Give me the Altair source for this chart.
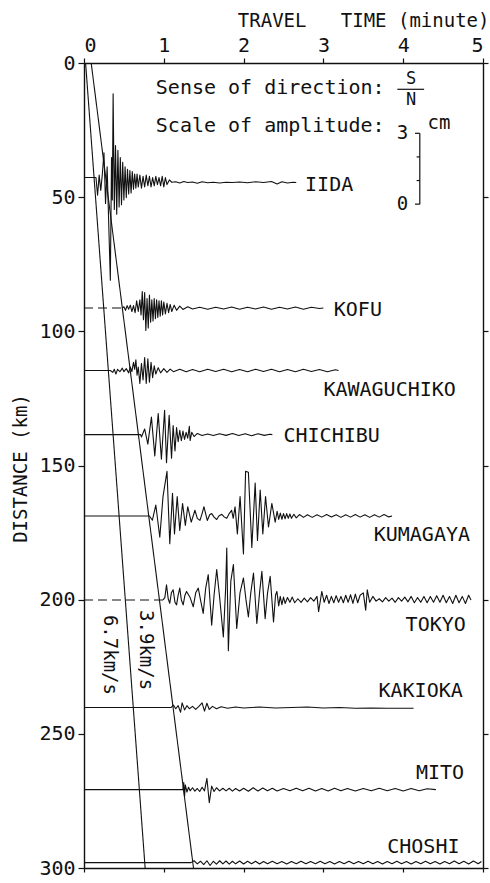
import altair as alt
import pandas as pd

FONT = "DejaVu Sans Mono"
INK = "#111111"
KM_PER_CM = 8.8  # amplitude scale: 1 cm of trace = 8.8 km on the distance axis

STATIONS = ["IIDA", "KOFU", "KAWAGUCHIKO", "CHICHIBU", "KUMAGAYA",
            "TOKYO", "KAKIOKA", "MITO", "CHOSHI"]
DIST_KM = [44.0, 91.3, 114.6, 138.5, 168.8, 200.1, 240.2, 270.8, 298.0]
LABEL_T = [2.77, 3.13, 3.00, 2.50, 3.63, 4.03, 3.69, 4.16, 3.80]
LABEL_D = [45.5, 92.1, 121.9, 139.0, 175.9, 209.5, 234.0, 264.6, 292.1]

# (time in minutes, amplitude in cm, positive = S)
IIDA = [(0.00, 0.15), (0.15, 0.15), (0.17, -0.6), (0.19, 0.25), (0.21, -0.4), (0.23, 0.3),
        (0.25, 1.2), (0.27, -0.95), (0.29, 0.6), (0.33, -4.2), (0.345, 1.0), (0.355, -0.8),
        (0.365, 3.7), (0.38, -1.2), (0.395, 1.5), (0.41, -1.4), (0.425, 1.3), (0.44, -1.1),
        (0.455, 1.0), (0.47, -1.0), (0.485, 0.8), (0.50, -0.8), (0.515, 0.6), (0.53, -0.7),
        (0.545, 0.5), (0.56, -0.55), (0.575, 0.45), (0.59, -0.5), (0.605, 0.4), (0.62, -0.35),
        (0.635, 0.3), (0.65, -0.3), (0.665, 0.3), (0.68, -0.25), (0.70, 0.25), (0.72, -0.3),
        (0.74, 0.2), (0.76, -0.25), (0.78, 0.25), (0.80, -0.2), (0.82, 0.2), (0.84, -0.25),
        (0.86, 0.15), (0.88, -0.2), (0.90, 0.2), (0.92, -0.15), (0.94, 0.15), (0.96, -0.2),
        (0.98, 0.2), (1.00, -0.25), (1.02, 0.15), (1.04, -0.15), (1.07, 0.05), (1.10, -0.05),
        (1.15, -0.03), (1.20, -0.08), (1.25, -0.02), (1.30, -0.06), (1.36, -0.04), (1.42, -0.09),
        (1.48, -0.03), (1.55, -0.07), (1.62, -0.05), (1.70, -0.08), (1.78, -0.05), (1.86, -0.06),
        (1.95, -0.04), (2.05, -0.07), (2.15, -0.03), (2.25, -0.06), (2.35, -0.02), (2.42, -0.12),
        (2.48, -0.03), (2.55, -0.08), (2.62, -0.05), (2.66, -0.06)]

KOFU = [(0.48, 0.0), (0.50, 0.05), (0.52, -0.1), (0.54, 0.1), (0.56, -0.05), (0.58, 0.12),
        (0.60, -0.15), (0.62, 0.1), (0.64, -0.2), (0.66, 0.3), (0.68, -0.15), (0.70, 0.35),
        (0.715, -0.3), (0.73, 0.7), (0.745, -0.5), (0.76, 0.65), (0.775, -0.95), (0.79, 0.4),
        (0.805, -0.85), (0.82, 0.55), (0.835, -0.6), (0.85, 0.35), (0.865, -0.55), (0.88, 0.4),
        (0.895, -0.45), (0.91, 0.35), (0.925, -0.4), (0.94, 0.3), (0.955, -0.35), (0.97, 0.3),
        (0.985, -0.3), (1.00, 0.25), (1.02, -0.25), (1.04, 0.2), (1.06, -0.2), (1.08, 0.15),
        (1.10, -0.15), (1.13, 0.12), (1.16, -0.1), (1.20, 0.08), (1.24, -0.06), (1.30, 0.05),
        (1.36, -0.04), (1.45, 0.03), (1.55, -0.05), (1.65, 0.03), (1.75, -0.04), (1.85, 0.04),
        (1.95, -0.05), (2.05, 0.03), (2.15, -0.04), (2.25, 0.04), (2.35, -0.05), (2.45, 0.03),
        (2.55, -0.04), (2.65, 0.04), (2.75, -0.05), (2.85, 0.03), (2.95, -0.02), (3.00, 0.0)]

KAWAGUCHIKO = [(0.00, 0.0), (0.33, 0.0), (0.36, -0.08), (0.38, 0.05), (0.40, -0.15), (0.42, 0.05),
               (0.45, -0.05), (0.48, 0.1), (0.50, -0.05), (0.53, 0.08), (0.56, -0.1), (0.58, 0.15),
               (0.60, -0.05), (0.62, 0.35), (0.635, 0.05), (0.65, 0.45), (0.665, -0.2), (0.68, 0.15),
               (0.70, -0.55), (0.72, 0.3), (0.74, -0.4), (0.76, 0.55), (0.78, -0.55), (0.80, 0.5),
               (0.82, -0.5), (0.84, 0.35), (0.86, -0.3), (0.88, 0.2), (0.90, -0.15), (0.93, 0.12),
               (0.96, -0.1), (1.00, 0.08), (1.04, -0.08), (1.08, 0.06), (1.12, -0.05), (1.20, 0.05),
               (1.28, -0.05), (1.36, 0.04), (1.45, -0.05), (1.55, 0.05), (1.65, -0.04), (1.75, 0.05),
               (1.85, -0.05), (1.95, 0.04), (2.05, -0.05), (2.15, 0.05), (2.25, -0.04), (2.35, 0.05),
               (2.45, -0.05), (2.55, 0.04), (2.65, -0.05), (2.75, 0.05), (2.85, -0.04), (2.95, 0.04),
               (3.05, -0.05), (3.15, 0.03), (3.19, 0.0)]

CHICHIBU = [(0.00, 0.0), (0.71, 0.0), (0.72, -0.1), (0.76, 0.24), (0.80, -0.4), (0.845, 0.74),
            (0.887, -0.9), (0.93, 0.89), (0.97, -1.04), (1.01, 1.03), (1.034, -1.19), (1.067, 0.82),
            (1.097, -1.0), (1.117, 0.39), (1.14, -0.69), (1.16, 0.3), (1.18, -0.3), (1.20, 0.18),
            (1.22, -0.26), (1.24, 0.15), (1.26, -0.2), (1.28, 0.1), (1.30, -0.15), (1.32, 0.35),
            (1.33, -0.25), (1.35, 0.1), (1.38, -0.08), (1.42, 0.05), (1.48, -0.04), (1.55, 0.03),
            (1.62, -0.04), (1.70, 0.04), (1.78, -0.03), (1.86, 0.05), (1.94, -0.04), (2.02, 0.04),
            (2.10, -0.05), (2.18, 0.04), (2.26, -0.03), (2.33, 0.02), (2.36, 0.0)]

KUMAGAYA = [(0.00, 0.0), (0.82, 0.0), (0.857, -0.18), (0.90, 0.46), (0.95, -0.9), (0.99, 0.82),
            (1.04, 1.89), (1.075, -1.18), (1.109, 0.96), (1.134, -0.76), (1.168, 0.82), (1.20, -0.61),
            (1.235, 0.53), (1.27, -0.4), (1.30, 0.39), (1.344, -0.26), (1.39, 0.24), (1.42, -0.1),
            (1.453, -0.19), (1.48, 0.1), (1.503, 0.39), (1.545, -0.19), (1.575, 0.05), (1.60, 0.1),
            (1.63, -0.05), (1.663, -0.15), (1.69, 0.0), (1.726, 0.07), (1.76, -0.05), (1.789, -0.1),
            (1.82, 0.1), (1.85, 0.24), (1.87, -0.1), (1.893, 0.39), (1.922, -0.76), (1.956, 0.82),
            (1.998, -1.61), (2.025, 1.89), (2.06, 1.85), (2.103, -1.33), (2.145, 1.39), (2.174, -1.04),
            (2.208, 1.1), (2.241, -0.76), (2.275, 0.82), (2.312, -0.47), (2.354, 0.53), (2.396, -0.26),
            (2.42, 0.2), (2.44, -0.15), (2.46, 0.12), (2.48, -0.14), (2.50, 0.1), (2.52, -0.12),
            (2.54, 0.1), (2.56, -0.1), (2.58, 0.08), (2.60, -0.1), (2.63, 0.07), (2.66, -0.08),
            (2.70, 0.06), (2.75, -0.06), (2.80, 0.05), (2.86, -0.06), (2.92, 0.05), (2.98, -0.05),
            (3.04, 0.06), (3.10, -0.04), (3.16, 0.05), (3.22, -0.06), (3.28, 0.05), (3.34, -0.05),
            (3.40, 0.06), (3.46, -0.05), (3.52, 0.05), (3.58, -0.06), (3.64, 0.05), (3.70, -0.05),
            (3.76, 0.06), (3.82, -0.04), (3.86, 0.0)]

TOKYO = [(0.99, 0.0), (1.013, 0.1), (1.034, 0.64), (1.055, 0.05), (1.075, -0.14), (1.095, 0.3),
         (1.117, 0.43), (1.14, -0.1), (1.16, -0.21), (1.18, 0.2), (1.20, 0.5), (1.22, 0.0),
         (1.243, -0.21), (1.265, 0.2), (1.285, 0.36), (1.33, 0.1), (1.369, -0.29), (1.40, 0.3),
         (1.432, 0.5), (1.46, 0.0), (1.494, -0.57), (1.525, 0.5), (1.557, 1.07), (1.60, -1.07),
         (1.63, 0.2), (1.663, 1.29), (1.70, 0.1), (1.746, -1.57), (1.775, 0.5), (1.789, 2.2),
         (1.809, -2.15), (1.84, 0.8), (1.872, 1.5), (1.914, -1.21), (1.955, 0.3), (1.998, 0.93),
         (2.03, 0.0), (2.06, -0.72), (2.09, 0.3), (2.124, 1.14), (2.166, -1.0), (2.20, 0.3),
         (2.229, 1.21), (2.27, -0.79), (2.30, 0.3), (2.333, 1.0), (2.375, -0.93), (2.40, 0.2),
         (2.417, 0.36), (2.44, -0.25), (2.459, 0.15), (2.48, -0.2), (2.50, 0.12), (2.52, -0.15),
         (2.55, 0.1), (2.58, -0.1), (2.61, 0.12), (2.64, -0.12), (2.68, 0.05), (2.72, -0.1),
         (2.76, 0.08), (2.80, -0.08), (2.84, 0.1), (2.88, -0.05), (2.92, 0.15), (2.94, -0.5),
         (2.98, 0.36), (3.01, -0.1), (3.04, 0.2), (3.07, -0.15), (3.10, 0.15), (3.13, -0.12),
         (3.16, 0.18), (3.19, -0.1), (3.22, 0.15), (3.25, -0.12), (3.28, 0.2), (3.31, -0.1),
         (3.34, 0.22), (3.37, -0.15), (3.40, 0.25), (3.43, -0.12), (3.46, 0.2), (3.50, 0.3),
         (3.53, -0.43), (3.55, 0.43), (3.58, -0.1), (3.62, 0.15), (3.66, -0.05), (3.70, 0.05),
         (3.74, -0.08), (3.78, 0.1), (3.82, -0.05), (3.86, 0.08), (3.90, -0.1), (3.94, 0.1),
         (3.98, -0.05), (4.02, 0.12), (4.06, -0.08), (4.10, 0.15), (4.14, -0.12), (4.18, 0.1),
         (4.22, -0.1), (4.26, 0.15), (4.30, -0.12), (4.34, 0.15), (4.38, -0.1), (4.42, 0.18),
         (4.46, -0.1), (4.50, 0.2), (4.54, -0.12), (4.58, 0.15), (4.62, -0.15), (4.66, 0.2),
         (4.70, -0.12), (4.74, 0.15), (4.78, -0.15), (4.82, 0.2), (4.85, 0.0)]

KAKIOKA = [(0.00, 0.0), (1.09, 0.0), (1.12, 0.1), (1.15, -0.05), (1.18, 0.08), (1.21, -0.2),
           (1.23, 0.2), (1.26, -0.1), (1.29, 0.08), (1.32, -0.05), (1.36, 0.05), (1.40, -0.08),
           (1.44, 0.05), (1.48, 0.2), (1.51, -0.15), (1.54, 0.18), (1.57, -0.08), (1.61, 0.05),
           (1.66, -0.05), (1.72, 0.03), (1.80, -0.03), (1.90, 0.02), (2.00, -0.02), (2.20, 0.02),
           (2.40, -0.02), (2.60, 0.0), (2.80, 0.02), (3.00, -0.02), (3.20, 0.0), (3.40, -0.03),
           (3.60, -0.02), (3.80, -0.03), (4.00, -0.03), (4.13, -0.03)]

MITO = [(0.00, 0.0), (1.24, 0.0), (1.25, 0.3), (1.26, -0.3), (1.27, 0.2), (1.29, -0.1),
        (1.31, 0.1), (1.33, -0.05), (1.36, 0.08), (1.39, -0.06), (1.42, 0.05), (1.45, -0.08),
        (1.48, 0.1), (1.51, -0.05), (1.54, 0.48), (1.57, -0.55), (1.60, 0.15), (1.63, -0.08),
        (1.66, 0.08), (1.70, -0.05), (1.74, 0.06), (1.78, -0.05), (1.82, 0.06), (1.86, -0.06),
        (1.90, 0.05), (1.95, -0.06), (2.00, 0.06), (2.06, -0.07), (2.12, 0.08), (2.18, -0.06),
        (2.24, 0.07), (2.30, -0.05), (2.36, 0.06), (2.42, -0.06), (2.50, 0.05), (2.58, -0.05),
        (2.66, 0.06), (2.74, -0.05), (2.82, 0.06), (2.90, -0.06), (2.98, 0.05), (3.06, -0.06),
        (3.14, 0.06), (3.22, -0.05), (3.30, 0.05), (3.40, -0.06), (3.50, 0.05), (3.60, -0.05),
        (3.70, 0.06), (3.80, -0.05), (3.90, 0.05), (4.00, -0.06), (4.10, 0.05), (4.20, -0.05),
        (4.30, 0.04), (4.41, 0.0)]

CHOSHI = [(0.00, 0.0), (1.34, 0.0), (1.38, 0.08), (1.42, -0.05), (1.46, 0.06), (1.50, -0.08),
          (1.54, 0.08), (1.58, -0.12), (1.62, 0.06), (1.66, -0.06), (1.70, 0.08), (1.74, -0.05),
          (1.78, 0.07), (1.82, -0.06), (1.86, 0.06), (1.90, -0.05), (1.95, 0.07), (2.00, -0.06),
          (2.05, 0.06), (2.10, -0.05), (2.15, 0.06), (2.20, -0.06), (2.25, 0.05), (2.30, -0.05),
          (2.36, 0.06), (2.42, -0.05), (2.48, 0.05), (2.54, -0.06), (2.60, 0.05), (2.66, -0.05),
          (2.72, 0.06), (2.78, -0.05), (2.84, 0.05), (2.90, -0.05), (2.96, 0.06), (3.02, -0.05),
          (3.08, 0.05), (3.14, -0.06), (3.20, 0.05), (3.26, -0.05), (3.32, 0.06), (3.38, -0.05),
          (3.44, 0.05), (3.50, -0.05), (3.56, 0.06), (3.62, -0.05), (3.68, 0.05), (3.74, -0.06),
          (3.80, 0.05), (3.86, -0.05), (3.92, 0.06), (3.98, -0.05), (4.04, 0.05), (4.10, -0.06),
          (4.16, 0.05), (4.22, -0.05), (4.28, 0.06), (4.34, -0.05), (4.40, 0.05), (4.46, -0.06),
          (4.52, 0.05), (4.58, -0.05), (4.64, 0.07), (4.70, -0.05), (4.76, 0.06), (4.82, -0.06),
          (4.88, 0.07), (4.94, -0.05), (4.98, 0.05)]

TRACES = [IIDA, KOFU, KAWAGUCHIKO, CHICHIBU, KUMAGAYA, TOKYO, KAKIOKA, MITO, CHOSHI]

# pre-arrival segments printed dashed (station, start time, end time)
DASHED_STATIONS = ["KOFU", "TOKYO"]
DASHED_END_T = [0.48, 0.99]

# travel-time lines
VELOCITY = [6.7, 3.9]
T_OFFSET = [0.02, 0.09]
VEL_LABEL = ["6.7km/s", "3.9km/s"]
VEL_LABEL_T = [0.32, 0.78]
VEL_LABEL_D = [220.6, 218.8]

# amplitude scale bar
SCALE_CM = [0, 1, 2, 3]
SCALE_T = 4.208
SCALE_BASE_D = 52.6

# ---------------------------------------------------------------- data frames
rows = []
for name, d, pts in zip(STATIONS, DIST_KM, TRACES):
    for i, (t, a) in enumerate(pts):
        rows.append({"station": name, "i": i, "t": t, "y": d - a * KM_PER_CM})
traces = pd.DataFrame(rows)

dash_rows = []
for name, te in zip(DASHED_STATIONS, DASHED_END_T):
    d = DIST_KM[STATIONS.index(name)]
    dash_rows += [{"station": name, "t": 0.0, "y": d}, {"station": name, "t": te, "y": d}]
dashed = pd.DataFrame(dash_rows)

tt_rows = []
for v, t0 in zip(VELOCITY, T_OFFSET):
    for dkm in (0.0, 300.0):
        tt_rows.append({"v": str(v), "t": t0 + dkm / v / 60.0, "y": dkm})
tt = pd.DataFrame(tt_rows)

labels = pd.DataFrame({"name": STATIONS, "t": LABEL_T, "y": LABEL_D})
vel_labels = pd.DataFrame({"name": VEL_LABEL, "t": VEL_LABEL_T, "y": VEL_LABEL_D})

notes = pd.DataFrame({
    "text": ["Sense of direction:", "Scale of amplitude:"],
    "t": [0.90, 0.90], "y": [9.3, 23.5]})
sn = pd.DataFrame({"text": ["S", "N"], "t": [4.10, 4.10], "y": [6.1, 13.8]})
scale_lbl = pd.DataFrame({"text": ["3", "0"], "t": [3.99, 3.99],
                          "y": [SCALE_BASE_D - 3 * KM_PER_CM, SCALE_BASE_D]})
cm_lbl = pd.DataFrame({"text": ["cm"], "t": [4.305], "y": [22.2]})

seg_rows = [{"t": SCALE_T, "t2": SCALE_T, "y": SCALE_BASE_D,
             "y2": SCALE_BASE_D - 3 * KM_PER_CM}]
for c in SCALE_CM:
    tl = 0.06 if c in (0, 3) else 0.04
    yy = SCALE_BASE_D - c * KM_PER_CM
    seg_rows.append({"t": SCALE_T - tl, "t2": SCALE_T, "y": yy, "y2": yy})
seg_rows.append({"t": 3.927, "t2": 4.262, "y": 9.8, "y2": 9.8})  # S/N divider
segs = pd.DataFrame(seg_rows)

# ---------------------------------------------------------------- encodings
xscale = alt.Scale(domain=[0, 5], nice=False, zero=False)
yscale = alt.Scale(domain=[0, 300], reverse=True, nice=False, zero=False)

common_axis = dict(grid=False, domainColor=INK, tickColor=INK, domainWidth=1.4,
                   tickWidth=1.2, labelColor=INK, labelFont=FONT, labelFontSize=20,
                   titleFont=FONT, titleFontSize=19, titleFontWeight="normal",
                   titleColor=INK)

x_top = alt.X("t:Q", scale=xscale, axis=alt.Axis(
    orient="top", values=[0, 1, 2, 3, 4, 5], format="d", tickSize=5, labelPadding=3,
    title="TRAVEL\u00a0\u00a0\u00a0TIME (minute)", titleAlign="right", titleX=405,
    titleY=-43, titleBaseline="middle", titleAngle=0, **common_axis))
y_left = alt.Y("y:Q", scale=yscale, axis=alt.Axis(
    orient="left", values=[0, 50, 100, 150, 200, 250, 300], tickSize=6, labelPadding=3,
    title="DISTANCE (km)", titleAngle=-90, titleX=-64, titleY=405,
    titleAlign="center", titleBaseline="middle", **common_axis))

x_bot = alt.X("t:Q", scale=xscale, axis=alt.Axis(
    orient="bottom", values=[0, 1, 2, 3, 4, 5], labels=False, tickSize=4,
    title=None, **common_axis))
y_right = alt.Y("y:Q", scale=yscale, axis=alt.Axis(
    orient="right", values=[0, 50, 100, 150, 200, 250, 300], labels=False,
    tickSize=5, title=None, **common_axis))

xn = alt.X("t:Q", scale=xscale, axis=None)
yn = alt.Y("y:Q", scale=yscale, axis=None)

trace_layer = alt.Chart(traces).mark_line(
    color=INK, strokeWidth=1.1, clip=True, strokeJoin="round").encode(
    x=x_top, y=y_left, detail="station:N", order="i:Q")

tt_layer = alt.Chart(tt).mark_line(color=INK, strokeWidth=1.1, clip=True).encode(
    x=x_bot, y=y_right, detail="v:N")

dash_layer = alt.Chart(dashed).mark_line(
    color=INK, strokeWidth=1.1, strokeDash=[9, 5]).encode(x=xn, y=yn, detail="station:N")

label_layer = alt.Chart(labels).mark_text(
    font=FONT, fontSize=20, color=INK, align="left", baseline="middle").encode(
    x=xn, y=yn, text="name:N")

vel_layer = alt.Chart(vel_labels).mark_text(
    font=FONT, fontSize=19, color=INK, align="center", baseline="middle", angle=90).encode(
    x=xn, y=yn, text="name:N")

notes_layer = alt.Chart(notes).mark_text(
    font=FONT, fontSize=20, color=INK, align="left", baseline="middle").encode(
    x=xn, y=yn, text="text:N")

sn_layer = alt.Chart(sn).mark_text(
    font=FONT, fontSize=17, color=INK, align="center", baseline="middle").encode(
    x=xn, y=yn, text="text:N")

scale_lbl_layer = alt.Chart(scale_lbl).mark_text(
    font=FONT, fontSize=19, color=INK, align="center", baseline="middle").encode(
    x=xn, y=yn, text="text:N")

cm_layer = alt.Chart(cm_lbl).mark_text(
    font=FONT, fontSize=19, color=INK, align="left", baseline="middle").encode(
    x=xn, y=yn, text="text:N")

seg_layer = alt.Chart(segs).mark_rule(color=INK, strokeWidth=1.2).encode(
    x=xn, x2="t2:Q", y=yn, y2="y2:Q")

chart = alt.layer(
    trace_layer, tt_layer, dash_layer, label_layer, vel_layer, notes_layer,
    sn_layer, scale_lbl_layer, cm_layer, seg_layer
).resolve_axis(x="independent", y="independent").properties(
    width=399, height=805, autosize="none",
    padding={"left": 84, "top": 63, "right": 7, "bottom": 15},
    background="white"
).configure_view(stroke=None)

chart.save("out.html", embed_options={"renderer": "svg", "actions": False})
